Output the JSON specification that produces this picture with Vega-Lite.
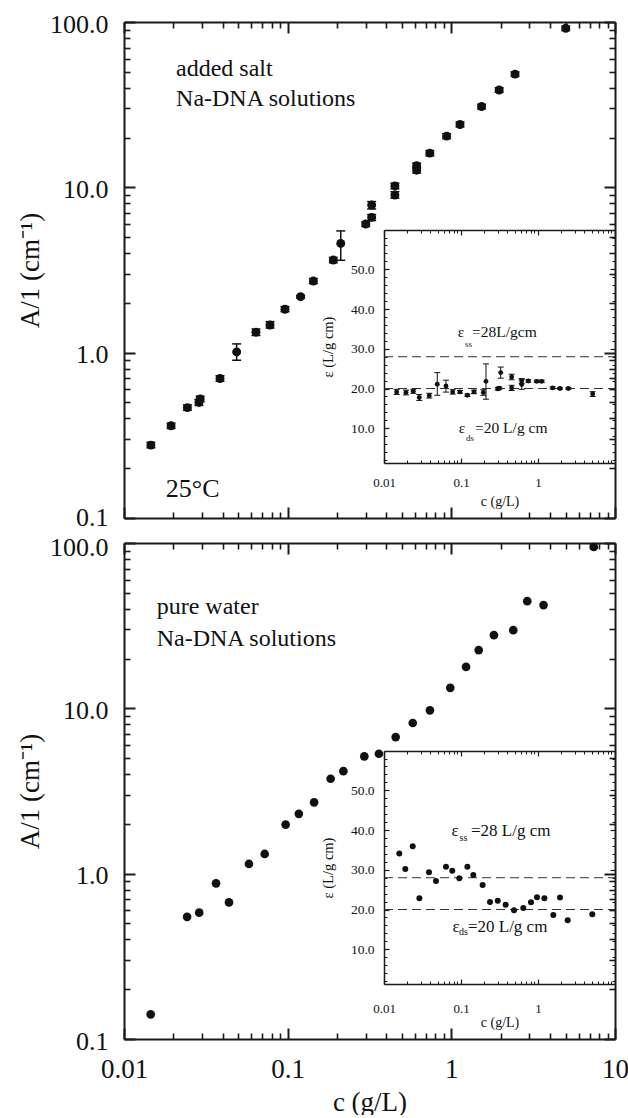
{
  "$schema": "https://vega.github.io/schema/vega-lite/v6.json",
  "background": "white",
  "autosize": {"type": "pad"},
  "padding": {"left": 16, "top": 11, "right": 0, "bottom": 0},
  "config": {
    "view": {"stroke": null},
    "font": "Liberation Serif",
    "axis": {
      "grid": false, "zindex": 1,
      "domainColor": "#1a1a1a", "tickColor": "#1a1a1a",
      "labelColor": "#111111", "titleColor": "#111111",
      "labelFont": "Liberation Serif", "titleFont": "Liberation Serif",
      "titleFontWeight": "normal", "labelOverlap": false, "labelFlush": false
    },
    "text": {"font": "Liberation Serif", "color": "#111111"}
  },
  "datasets": {
    "saltA": [
      {"c": 0.0146, "A": 0.276, "lo": 0.266, "hi": 0.287},
      {"c": 0.0194, "A": 0.361, "lo": 0.348, "hi": 0.375},
      {"c": 0.0244, "A": 0.465, "lo": 0.448, "hi": 0.483},
      {"c": 0.0287, "A": 0.500, "lo": 0.480, "hi": 0.520},
      {"c": 0.0292, "A": 0.525, "lo": 0.505, "hi": 0.545},
      {"c": 0.0386, "A": 0.698, "lo": 0.672, "hi": 0.725},
      {"c": 0.0488, "A": 1.01, "lo": 0.90, "hi": 1.13},
      {"c": 0.064, "A": 1.33, "lo": 1.27, "hi": 1.39},
      {"c": 0.078, "A": 1.47, "lo": 1.41, "hi": 1.54},
      {"c": 0.0963, "A": 1.83, "lo": 1.77, "hi": 1.90},
      {"c": 0.120, "A": 2.18, "lo": 2.14, "hi": 2.22},
      {"c": 0.1436, "A": 2.71, "lo": 2.62, "hi": 2.81},
      {"c": 0.190, "A": 3.63, "lo": 3.50, "hi": 3.77},
      {"c": 0.211, "A": 4.58, "lo": 3.62, "hi": 5.45},
      {"c": 0.300, "A": 6.00, "lo": 5.80, "hi": 6.20},
      {"c": 0.326, "A": 6.58, "lo": 6.30, "hi": 6.85},
      {"c": 0.326, "A": 7.81, "lo": 7.40, "hi": 8.20},
      {"c": 0.452, "A": 8.98, "lo": 8.60, "hi": 9.40},
      {"c": 0.452, "A": 10.2, "lo": 9.80, "hi": 10.6},
      {"c": 0.614, "A": 12.7, "lo": 12.2, "hi": 13.2},
      {"c": 0.614, "A": 13.5, "lo": 13.0, "hi": 14.0},
      {"c": 0.739, "A": 16.1, "lo": 15.5, "hi": 16.7},
      {"c": 0.936, "A": 20.4, "lo": 19.7, "hi": 21.1},
      {"c": 1.13, "A": 24.0, "lo": 23.2, "hi": 24.8},
      {"c": 1.53, "A": 30.8, "lo": 29.8, "hi": 31.8},
      {"c": 1.96, "A": 38.8, "lo": 37.6, "hi": 40.0},
      {"c": 2.45, "A": 48.4, "lo": 46.9, "hi": 49.9},
      {"c": 5.00, "A": 91.6, "lo": 88.8, "hi": 94.4}
    ],
    "saltEps": [
      {"c": 0.0146, "eps": 19.15, "lo": 18.5, "hi": 19.8},
      {"c": 0.0193, "eps": 19.0, "lo": 18.4, "hi": 19.6},
      {"c": 0.0240, "eps": 19.3, "lo": 18.8, "hi": 19.8},
      {"c": 0.0287, "eps": 17.75, "lo": 17.0, "hi": 18.5},
      {"c": 0.0387, "eps": 18.2, "lo": 17.6, "hi": 18.8},
      {"c": 0.0492, "eps": 21.1, "lo": 18.3, "hi": 24.0},
      {"c": 0.0638, "eps": 20.65, "lo": 19.1, "hi": 22.1},
      {"c": 0.078, "eps": 19.15, "lo": 18.6, "hi": 19.7},
      {"c": 0.097, "eps": 19.15, "lo": 18.8, "hi": 19.5},
      {"c": 0.121, "eps": 18.3, "lo": 18.0, "hi": 18.6},
      {"c": 0.1476, "eps": 19.15, "lo": 18.7, "hi": 19.6},
      {"c": 0.195, "eps": 19.0, "lo": 18.3, "hi": 19.7},
      {"c": 0.211, "eps": 21.8, "lo": 17.3, "hi": 26.2},
      {"c": 0.300, "eps": 19.9, "lo": 19.6, "hi": 20.2},
      {"c": 0.314, "eps": 20.1, "lo": 19.8, "hi": 20.4},
      {"c": 0.328, "eps": 24.0, "lo": 22.6, "hi": 25.4},
      {"c": 0.455, "eps": 22.9, "lo": 22.2, "hi": 23.6},
      {"c": 0.455, "eps": 20.15, "lo": 19.5, "hi": 20.8},
      {"c": 0.614, "eps": 21.9, "lo": 21.3, "hi": 22.5},
      {"c": 0.614, "eps": 21.0, "lo": 19.8, "hi": 22.2},
      {"c": 0.748, "eps": 21.9, "lo": 21.6, "hi": 22.2},
      {"c": 0.962, "eps": 21.8, "lo": 21.5, "hi": 22.1},
      {"c": 1.117, "eps": 21.8, "lo": 21.5, "hi": 22.1},
      {"c": 1.55, "eps": 20.15, "lo": 19.9, "hi": 20.4},
      {"c": 1.93, "eps": 20.0, "lo": 19.8, "hi": 20.2},
      {"c": 2.48, "eps": 20.0, "lo": 19.8, "hi": 20.2},
      {"c": 5.13, "eps": 18.6, "lo": 18.0, "hi": 19.2}
    ],
    "waterA": [
      {"c": 0.01456, "A": 0.141},
      {"c": 0.0243, "A": 0.548},
      {"c": 0.0288, "A": 0.581},
      {"c": 0.0365, "A": 0.874},
      {"c": 0.0438, "A": 0.670},
      {"c": 0.058, "A": 1.145},
      {"c": 0.0724, "A": 1.316},
      {"c": 0.0972, "A": 1.98},
      {"c": 0.117, "A": 2.30},
      {"c": 0.145, "A": 2.70},
      {"c": 0.183, "A": 3.75},
      {"c": 0.219, "A": 4.17},
      {"c": 0.294, "A": 5.12},
      {"c": 0.361, "A": 5.31},
      {"c": 0.457, "A": 6.70},
      {"c": 0.581, "A": 8.15},
      {"c": 0.740, "A": 9.72},
      {"c": 0.985, "A": 13.3},
      {"c": 1.23, "A": 17.8},
      {"c": 1.47, "A": 22.5},
      {"c": 1.82, "A": 27.7},
      {"c": 2.39, "A": 29.7},
      {"c": 2.91, "A": 44.5},
      {"c": 3.66, "A": 42.1},
      {"c": 7.43, "A": 94.6}
    ],
    "waterEps": [
      {"c": 0.0158, "eps": 34.1},
      {"c": 0.0189, "eps": 30.2},
      {"c": 0.0236, "eps": 35.9},
      {"c": 0.0288, "eps": 22.85},
      {"c": 0.0384, "eps": 29.4},
      {"c": 0.0473, "eps": 27.2},
      {"c": 0.0638, "eps": 30.75},
      {"c": 0.077, "eps": 29.75},
      {"c": 0.095, "eps": 27.9},
      {"c": 0.121, "eps": 30.75},
      {"c": 0.1445, "eps": 28.7},
      {"c": 0.191, "eps": 26.2},
      {"c": 0.238, "eps": 21.9},
      {"c": 0.300, "eps": 22.2},
      {"c": 0.380, "eps": 21.2},
      {"c": 0.488, "eps": 19.8},
      {"c": 0.644, "eps": 20.4},
      {"c": 0.811, "eps": 21.8},
      {"c": 0.970, "eps": 23.1},
      {"c": 1.21, "eps": 22.85},
      {"c": 1.58, "eps": 18.6},
      {"c": 1.93, "eps": 23.0},
      {"c": 2.43, "eps": 17.3},
      {"c": 5.07, "eps": 18.8}
    ],
    "levels": [
      {"strand": "single", "eps": 28},
      {"strand": "double", "eps": 20}
    ]
  },
  "bounds": "flush",
  "spacing": 25,
  "vconcat": [
    {
      "width": 491, "height": 496,
      "data": {"name": "saltA"},
      "resolve": {"scale": {"x": "independent", "y": "independent"}, "axis": {"x": "independent", "y": "independent"}},
      "layer": [
        {
          "mark": {"type": "point", "filled": true, "size": 80, "opacity": 1, "color": "#111111"},
          "encoding": {
            "x": {"field": "c", "type": "quantitative", "scale": {"type": "log", "domain": [0.01, 10]},
              "axis": {"orient": "bottom", "values": [0.01, 0.1, 1, 10], "tickSize": -11, "tickWidth": 2, "domainWidth": 2, "labels": false, "title": null}},
            "y": {"field": "A", "type": "quantitative", "scale": {"type": "log", "domain": [0.1, 100]},
              "axis": {"orient": "left", "values": [0.1, 1, 10, 100], "tickSize": -11, "tickWidth": 2, "domainWidth": 2, "format": ".1f", "labelFontSize": 26, "labelOffset": {"condition": {"test": "datum.value < 0.5", "value": -1}, "value": 2}, "labelPadding": 27, "title": "A/1 (cm⁻¹)", "titleFontSize": 27, "titlePadding": 5}}
          }
        },
        {
          "mark": {"type": "point", "opacity": 0},
          "encoding": {
            "x": {"field": "c", "type": "quantitative", "scale": {"type": "log", "domain": [0.01, 10]},
              "axis": {"orient": "bottom", "values": [0.02,0.03,0.04,0.05,0.06,0.07,0.08,0.09,0.2,0.3,0.4,0.5,0.6,0.7,0.8,0.9,2,3,4,5,6,7,8,9], "tickSize": -6, "tickWidth": 1.6, "domain": false, "labels": false, "title": null}},
            "y": {"field": "A", "type": "quantitative", "scale": {"type": "log", "domain": [0.1, 100]},
              "axis": {"orient": "left", "values": [0.2,0.3,0.4,0.5,0.6,0.7,0.8,0.9,2,3,4,5,6,7,8,9,20,30,40,50,60,70,80,90], "tickSize": -6, "tickWidth": 1.6, "domain": false, "labels": false, "title": null}}
          }
        },
        {
          "mark": {"type": "point", "opacity": 0},
          "encoding": {
            "x": {"field": "c", "type": "quantitative", "scale": {"type": "log", "domain": [0.01, 10]},
              "axis": {"orient": "top", "values": [0.01, 0.1, 1, 10], "tickSize": -11, "tickWidth": 2, "domainWidth": 2, "labels": false, "title": null}},
            "y": {"field": "A", "type": "quantitative", "scale": {"type": "log", "domain": [0.1, 100]},
              "axis": {"orient": "right", "values": [0.1, 1, 10, 100], "tickSize": -11, "tickWidth": 2, "domainWidth": 2, "labels": false, "title": null}}
          }
        },
        {
          "mark": {"type": "point", "opacity": 0},
          "encoding": {
            "x": {"field": "c", "type": "quantitative", "scale": {"type": "log", "domain": [0.01, 10]},
              "axis": {"orient": "top", "values": [0.02,0.03,0.04,0.05,0.06,0.07,0.08,0.09,0.2,0.3,0.4,0.5,0.6,0.7,0.8,0.9,2,3,4,5,6,7,8,9], "tickSize": -6, "tickWidth": 1.6, "domain": false, "labels": false, "title": null}},
            "y": {"field": "A", "type": "quantitative", "scale": {"type": "log", "domain": [0.1, 100]},
              "axis": {"orient": "right", "values": [0.2,0.3,0.4,0.5,0.6,0.7,0.8,0.9,2,3,4,5,6,7,8,9,20,30,40,50,60,70,80,90], "tickSize": -6, "tickWidth": 1.6, "domain": false, "labels": false, "title": null}}
          }
        },
        {
          "mark": {"type": "rule", "color": "#111111", "strokeWidth": 1.5},
          "encoding": {
            "x": {"field": "c", "type": "quantitative", "scale": {"type": "log", "domain": [0.01, 10]}, "axis": null},
            "y": {"field": "lo", "type": "quantitative", "scale": {"type": "log", "domain": [0.1, 100]}, "axis": null},
            "y2": {"field": "hi"}
          }
        },
        {
          "transform": [{"fold": ["lo", "hi"], "as": ["end", "bound"]}],
          "mark": {"type": "tick", "orient": "horizontal", "size": 9, "thickness": 1.5, "color": "#111111", "opacity": 1},
          "encoding": {
            "x": {"field": "c", "type": "quantitative", "scale": {"type": "log", "domain": [0.01, 10]}, "axis": null},
            "y": {"field": "bound", "type": "quantitative", "scale": {"type": "log", "domain": [0.1, 100]}, "axis": null}
          }
        },
        {
          "data": {"values": [{"note": "sample"}]},
          "mark": {"type": "text", "font": "Liberation Serif", "align": "left", "baseline": "alphabetic", "fontSize": 24, "lineHeight": 30, "text": ["added salt", "Na-DNA solutions"]},
          "encoding": {
            "x": {"datum": 0.0208, "type": "quantitative", "scale": {"type": "log", "domain": [0.01, 10]}, "axis": null},
            "y": {"datum": 47.1, "type": "quantitative", "scale": {"type": "log", "domain": [0.1, 100]}, "axis": null}
          }
        },
        {
          "data": {"values": [{"note": "25°C"}]},
          "mark": {"type": "text", "font": "Liberation Serif", "align": "left", "baseline": "alphabetic", "fontSize": 26},
          "encoding": {
            "x": {"datum": 0.018, "type": "quantitative", "scale": {"type": "log", "domain": [0.01, 10]}, "axis": null},
            "y": {"datum": 0.134, "type": "quantitative", "scale": {"type": "log", "domain": [0.1, 100]}, "axis": null},
            "text": {"field": "note"}
          }
        },
        {
          "data": {"name": "saltEps"},
          "mark": {"type": "point", "opacity": 0},
          "encoding": {
            "x": {"field": "c", "type": "quantitative", "scale": {"type": "log", "domain": [0.01, 10], "range": [260, 491]},
              "axis": {"orient": "bottom", "offset": -55, "values": [0.01, 0.1, 1], "tickSize": -5, "tickWidth": 1.2, "domainWidth": 1.5, "format": "~g", "labelFontSize": 13, "labelPadding": 18, "title": "c (g/L)", "titleFontSize": 14, "titlePadding": 5}},
            "y": {"field": "eps", "type": "quantitative", "scale": {"type": "linear", "zero": false, "domain": [1.25, 59.9], "range": [441, 208]},
              "axis": {"orient": "left", "offset": -260, "values": [10, 20, 30, 40, 50], "tickSize": -5, "tickWidth": 1.2, "domainWidth": 1.5, "format": ".1f", "labelFontSize": 13.5, "labelPadding": 15, "title": "ε (L/g cm)", "titleFontSize": 14.5, "titlePadding": 15}}
          }
        },
        {
          "data": {"name": "saltEps"},
          "mark": {"type": "point", "opacity": 0},
          "encoding": {
            "x": {"field": "c", "type": "quantitative", "scale": {"type": "log", "domain": [0.01, 10], "range": [260, 491]},
              "axis": {"orient": "bottom", "offset": -55, "values": [0.02,0.03,0.04,0.05,0.06,0.07,0.08,0.09,0.2,0.3,0.4,0.5,0.6,0.7,0.8,0.9,2,3,4,5,6,7,8,9], "tickSize": -3, "tickWidth": 1, "domain": false, "labels": false, "title": null}},
            "y": {"field": "eps", "type": "quantitative", "scale": {"type": "linear", "zero": false, "domain": [1.25, 59.9], "range": [441, 208]},
              "axis": {"orient": "left", "offset": -260, "values": [2,4,6,8,12,14,16,18,22,24,26,28,32,34,36,38,42,44,46,48,52,54,56,58], "tickSize": -3, "tickWidth": 1, "domain": false, "labels": false, "title": null}}
          }
        },
        {
          "data": {"name": "saltEps"},
          "mark": {"type": "point", "opacity": 0},
          "encoding": {
            "x": {"field": "c", "type": "quantitative", "scale": {"type": "log", "domain": [0.01, 10], "range": [260, 491]},
              "axis": {"orient": "top", "offset": -208, "values": [0.01, 0.1, 1, 10], "tickSize": -5, "tickWidth": 1.2, "domainWidth": 1.5, "labels": false, "title": null}},
            "y": {"field": "eps", "type": "quantitative", "scale": {"type": "linear", "zero": false, "domain": [1.25, 59.9], "range": [441, 208]},
              "axis": {"orient": "right", "offset": 0, "values": [10, 20, 30, 40, 50], "tickSize": -5, "tickWidth": 1.2, "domain": false, "labels": false, "title": null}}
          }
        },
        {
          "data": {"name": "saltEps"},
          "mark": {"type": "point", "opacity": 0},
          "encoding": {
            "x": {"field": "c", "type": "quantitative", "scale": {"type": "log", "domain": [0.01, 10], "range": [260, 491]},
              "axis": {"orient": "top", "offset": -208, "values": [0.02,0.03,0.04,0.05,0.06,0.07,0.08,0.09,0.2,0.3,0.4,0.5,0.6,0.7,0.8,0.9,2,3,4,5,6,7,8,9], "tickSize": -3, "tickWidth": 1, "domain": false, "labels": false, "title": null}},
            "y": {"field": "eps", "type": "quantitative", "scale": {"type": "linear", "zero": false, "domain": [1.25, 59.9], "range": [441, 208]},
              "axis": {"orient": "right", "offset": 0, "values": [2,4,6,8,12,14,16,18,22,24,26,28,32,34,36,38,42,44,46,48,52,54,56,58], "tickSize": -3, "tickWidth": 1, "domain": false, "labels": false, "title": null}}
          }
        },
        {
          "data": {"name": "levels"},
          "mark": {"type": "rule", "color": "#333333", "strokeWidth": 1, "strokeDash": [9, 5]},
          "encoding": {
            "x": {"datum": 0.01, "type": "quantitative", "scale": {"type": "log", "domain": [0.01, 10], "range": [260, 491]}, "axis": null},
            "x2": {"datum": 10},
            "y": {"field": "eps", "type": "quantitative", "scale": {"type": "linear", "zero": false, "domain": [1.25, 59.9], "range": [441, 208]}, "axis": null}
          }
        },
        {
          "data": {"name": "saltEps"},
          "mark": {"type": "rule", "color": "#111111", "strokeWidth": 1},
          "encoding": {
            "x": {"field": "c", "type": "quantitative", "scale": {"type": "log", "domain": [0.01, 10], "range": [260, 491]}, "axis": null},
            "y": {"field": "lo", "type": "quantitative", "scale": {"type": "linear", "zero": false, "domain": [1.25, 59.9], "range": [441, 208]}, "axis": null},
            "y2": {"field": "hi"}
          }
        },
        {
          "data": {"name": "saltEps"},
          "transform": [{"fold": ["lo", "hi"], "as": ["end", "bound"]}],
          "mark": {"type": "tick", "orient": "horizontal", "size": 6, "thickness": 1, "color": "#111111", "opacity": 1},
          "encoding": {
            "x": {"field": "c", "type": "quantitative", "scale": {"type": "log", "domain": [0.01, 10], "range": [260, 491]}, "axis": null},
            "y": {"field": "bound", "type": "quantitative", "scale": {"type": "linear", "zero": false, "domain": [1.25, 59.9], "range": [441, 208]}, "axis": null}
          }
        },
        {
          "data": {"name": "saltEps"},
          "mark": {"type": "point", "filled": true, "size": 24, "opacity": 1, "color": "#111111"},
          "encoding": {
            "x": {"field": "c", "type": "quantitative", "scale": {"type": "log", "domain": [0.01, 10], "range": [260, 491]}, "axis": null},
            "y": {"field": "eps", "type": "quantitative", "scale": {"type": "linear", "zero": false, "domain": [1.25, 59.9], "range": [441, 208]}, "axis": null}
          }
        },
        {
          "data": {"values": [{"note": "ε"}]},
          "mark": {"type": "text", "font": "Liberation Serif", "align": "center", "baseline": "middle", "fontSize": 15.5},
          "encoding": {
            "x": {"datum": 0.1, "type": "quantitative", "scale": {"type": "log", "domain": [0.01, 10], "range": [260, 491]}, "axis": null},
            "y": {"datum": 34.15, "type": "quantitative", "scale": {"type": "linear", "zero": false, "domain": [1.25, 59.9], "range": [441, 208]}, "axis": null},
            "text": {"field": "note"}
          }
        },
        {
          "data": {"values": [{"note": "ss"}]},
          "mark": {"type": "text", "font": "Liberation Serif", "align": "left", "baseline": "middle", "fontSize": 9},
          "encoding": {
            "x": {"datum": 0.1127, "type": "quantitative", "scale": {"type": "log", "domain": [0.01, 10], "range": [260, 491]}, "axis": null},
            "y": {"datum": 31.3, "type": "quantitative", "scale": {"type": "linear", "zero": false, "domain": [1.25, 59.9], "range": [441, 208]}, "axis": null},
            "text": {"field": "note"}
          }
        },
        {
          "data": {"values": [{"note": "=28L/gcm"}]},
          "mark": {"type": "text", "font": "Liberation Serif", "align": "left", "baseline": "middle", "fontSize": 15.5},
          "encoding": {
            "x": {"datum": 0.139, "type": "quantitative", "scale": {"type": "log", "domain": [0.01, 10], "range": [260, 491]}, "axis": null},
            "y": {"datum": 34.15, "type": "quantitative", "scale": {"type": "linear", "zero": false, "domain": [1.25, 59.9], "range": [441, 208]}, "axis": null},
            "text": {"field": "note"}
          }
        },
        {
          "data": {"values": [{"note": "ε"}]},
          "mark": {"type": "text", "font": "Liberation Serif", "align": "center", "baseline": "middle", "fontSize": 15.5},
          "encoding": {
            "x": {"datum": 0.103, "type": "quantitative", "scale": {"type": "log", "domain": [0.01, 10], "range": [260, 491]}, "axis": null},
            "y": {"datum": 10.0, "type": "quantitative", "scale": {"type": "linear", "zero": false, "domain": [1.25, 59.9], "range": [441, 208]}, "axis": null},
            "text": {"field": "note"}
          }
        },
        {
          "data": {"values": [{"note": "ds"}]},
          "mark": {"type": "text", "font": "Liberation Serif", "align": "left", "baseline": "middle", "fontSize": 9},
          "encoding": {
            "x": {"datum": 0.116, "type": "quantitative", "scale": {"type": "log", "domain": [0.01, 10], "range": [260, 491]}, "axis": null},
            "y": {"datum": 7.65, "type": "quantitative", "scale": {"type": "linear", "zero": false, "domain": [1.25, 59.9], "range": [441, 208]}, "axis": null},
            "text": {"field": "note"}
          }
        },
        {
          "data": {"values": [{"note": "=20 L/g cm"}]},
          "mark": {"type": "text", "font": "Liberation Serif", "align": "left", "baseline": "middle", "fontSize": 15.5},
          "encoding": {
            "x": {"datum": 0.152, "type": "quantitative", "scale": {"type": "log", "domain": [0.01, 10], "range": [260, 491]}, "axis": null},
            "y": {"datum": 10.0, "type": "quantitative", "scale": {"type": "linear", "zero": false, "domain": [1.25, 59.9], "range": [441, 208]}, "axis": null},
            "text": {"field": "note"}
          }
        }
      ]
    },
    {
      "width": 491, "height": 496,
      "data": {"name": "waterA"},
      "resolve": {"scale": {"x": "independent", "y": "independent"}, "axis": {"x": "independent", "y": "independent"}},
      "layer": [
        {
          "mark": {"type": "point", "filled": true, "size": 75, "opacity": 1, "color": "#111111"},
          "encoding": {
            "x": {"field": "c", "type": "quantitative", "scale": {"type": "log", "domain": [0.01, 10]},
              "axis": {"orient": "bottom", "values": [0.01, 0.1, 1, 10], "tickSize": -11, "tickWidth": 2, "domainWidth": 2, "format": "~g", "labelFontSize": 27, "labelPadding": 28, "title": "c (g/L)", "titleFontSize": 27, "titlePadding": 7}},
            "y": {"field": "A", "type": "quantitative", "scale": {"type": "log", "domain": [0.1, 100]},
              "axis": {"orient": "left", "values": [0.1, 1, 10, 100], "tickSize": -11, "tickWidth": 2, "domainWidth": 2, "format": ".1f", "labelFontSize": 26, "labelOffset": {"condition": {"test": "datum.value > 50", "value": 4}, "value": 2}, "labelPadding": 27, "title": "A/1 (cm⁻¹)", "titleFontSize": 27, "titlePadding": 5}}
          }
        },
        {
          "mark": {"type": "point", "opacity": 0},
          "encoding": {
            "x": {"field": "c", "type": "quantitative", "scale": {"type": "log", "domain": [0.01, 10]},
              "axis": {"orient": "bottom", "values": [0.02,0.03,0.04,0.05,0.06,0.07,0.08,0.09,0.2,0.3,0.4,0.5,0.6,0.7,0.8,0.9,2,3,4,5,6,7,8,9], "tickSize": -6, "tickWidth": 1.6, "domain": false, "labels": false, "title": null}},
            "y": {"field": "A", "type": "quantitative", "scale": {"type": "log", "domain": [0.1, 100]},
              "axis": {"orient": "left", "values": [0.2,0.3,0.4,0.5,0.6,0.7,0.8,0.9,2,3,4,5,6,7,8,9,20,30,40,50,60,70,80,90], "tickSize": -6, "tickWidth": 1.6, "domain": false, "labels": false, "title": null}}
          }
        },
        {
          "mark": {"type": "point", "opacity": 0},
          "encoding": {
            "x": {"field": "c", "type": "quantitative", "scale": {"type": "log", "domain": [0.01, 10]},
              "axis": {"orient": "top", "values": [0.01, 0.1, 1, 10], "tickSize": -11, "tickWidth": 2, "domainWidth": 2, "labels": false, "title": null}},
            "y": {"field": "A", "type": "quantitative", "scale": {"type": "log", "domain": [0.1, 100]},
              "axis": {"orient": "right", "values": [0.1, 1, 10, 100], "tickSize": -11, "tickWidth": 2, "domainWidth": 2, "labels": false, "title": null}}
          }
        },
        {
          "mark": {"type": "point", "opacity": 0},
          "encoding": {
            "x": {"field": "c", "type": "quantitative", "scale": {"type": "log", "domain": [0.01, 10]},
              "axis": {"orient": "top", "values": [0.02,0.03,0.04,0.05,0.06,0.07,0.08,0.09,0.2,0.3,0.4,0.5,0.6,0.7,0.8,0.9,2,3,4,5,6,7,8,9], "tickSize": -6, "tickWidth": 1.6, "domain": false, "labels": false, "title": null}},
            "y": {"field": "A", "type": "quantitative", "scale": {"type": "log", "domain": [0.1, 100]},
              "axis": {"orient": "right", "values": [0.2,0.3,0.4,0.5,0.6,0.7,0.8,0.9,2,3,4,5,6,7,8,9,20,30,40,50,60,70,80,90], "tickSize": -6, "tickWidth": 1.6, "domain": false, "labels": false, "title": null}}
          }
        },
        {
          "data": {"values": [{"note": "sample"}]},
          "mark": {"type": "text", "font": "Liberation Serif", "align": "left", "baseline": "alphabetic", "fontSize": 24, "lineHeight": 31.5, "text": ["pure water", "Na-DNA solutions"]},
          "encoding": {
            "x": {"datum": 0.01584, "type": "quantitative", "scale": {"type": "log", "domain": [0.01, 10]}, "axis": null},
            "y": {"datum": 36.97, "type": "quantitative", "scale": {"type": "log", "domain": [0.1, 100]}, "axis": null}
          }
        },
        {
          "data": {"name": "waterEps"},
          "mark": {"type": "point", "opacity": 0},
          "encoding": {
            "x": {"field": "c", "type": "quantitative", "scale": {"type": "log", "domain": [0.01, 10], "range": [260, 491]},
              "axis": {"orient": "bottom", "offset": -55, "values": [0.01, 0.1, 1], "tickSize": -5, "tickWidth": 1.2, "domainWidth": 1.5, "format": "~g", "labelFontSize": 13, "labelPadding": 23, "title": "c (g/L)", "titleFontSize": 14, "titlePadding": 0}},
            "y": {"field": "eps", "type": "quantitative", "scale": {"type": "linear", "zero": false, "domain": [1.25, 59.9], "range": [441, 208]},
              "axis": {"orient": "left", "offset": -260, "values": [10, 20, 30, 40, 50], "tickSize": -5, "tickWidth": 1.2, "domainWidth": 1.5, "format": ".1f", "labelFontSize": 13.5, "labelPadding": 15, "title": "ε (L/g cm)", "titleFontSize": 14.5, "titlePadding": 15}}
          }
        },
        {
          "data": {"name": "waterEps"},
          "mark": {"type": "point", "opacity": 0},
          "encoding": {
            "x": {"field": "c", "type": "quantitative", "scale": {"type": "log", "domain": [0.01, 10], "range": [260, 491]},
              "axis": {"orient": "bottom", "offset": -55, "values": [0.02,0.03,0.04,0.05,0.06,0.07,0.08,0.09,0.2,0.3,0.4,0.5,0.6,0.7,0.8,0.9,2,3,4,5,6,7,8,9], "tickSize": -3, "tickWidth": 1, "domain": false, "labels": false, "title": null}},
            "y": {"field": "eps", "type": "quantitative", "scale": {"type": "linear", "zero": false, "domain": [1.25, 59.9], "range": [441, 208]},
              "axis": {"orient": "left", "offset": -260, "values": [2,4,6,8,12,14,16,18,22,24,26,28,32,34,36,38,42,44,46,48,52,54,56,58], "tickSize": -3, "tickWidth": 1, "domain": false, "labels": false, "title": null}}
          }
        },
        {
          "data": {"name": "waterEps"},
          "mark": {"type": "point", "opacity": 0},
          "encoding": {
            "x": {"field": "c", "type": "quantitative", "scale": {"type": "log", "domain": [0.01, 10], "range": [260, 491]},
              "axis": {"orient": "top", "offset": -208, "values": [0.01, 0.1, 1, 10], "tickSize": -5, "tickWidth": 1.2, "domainWidth": 1.5, "labels": false, "title": null}},
            "y": {"field": "eps", "type": "quantitative", "scale": {"type": "linear", "zero": false, "domain": [1.25, 59.9], "range": [441, 208]},
              "axis": {"orient": "right", "offset": 0, "values": [10, 20, 30, 40, 50], "tickSize": -5, "tickWidth": 1.2, "domain": false, "labels": false, "title": null}}
          }
        },
        {
          "data": {"name": "waterEps"},
          "mark": {"type": "point", "opacity": 0},
          "encoding": {
            "x": {"field": "c", "type": "quantitative", "scale": {"type": "log", "domain": [0.01, 10], "range": [260, 491]},
              "axis": {"orient": "top", "offset": -208, "values": [0.02,0.03,0.04,0.05,0.06,0.07,0.08,0.09,0.2,0.3,0.4,0.5,0.6,0.7,0.8,0.9,2,3,4,5,6,7,8,9], "tickSize": -3, "tickWidth": 1, "domain": false, "labels": false, "title": null}},
            "y": {"field": "eps", "type": "quantitative", "scale": {"type": "linear", "zero": false, "domain": [1.25, 59.9], "range": [441, 208]},
              "axis": {"orient": "right", "offset": 0, "values": [2,4,6,8,12,14,16,18,22,24,26,28,32,34,36,38,42,44,46,48,52,54,56,58], "tickSize": -3, "tickWidth": 1, "domain": false, "labels": false, "title": null}}
          }
        },
        {
          "data": {"name": "levels"},
          "mark": {"type": "rule", "color": "#333333", "strokeWidth": 1, "strokeDash": [9, 5]},
          "encoding": {
            "x": {"datum": 0.01, "type": "quantitative", "scale": {"type": "log", "domain": [0.01, 10], "range": [260, 491]}, "axis": null},
            "x2": {"datum": 10},
            "y": {"field": "eps", "type": "quantitative", "scale": {"type": "linear", "zero": false, "domain": [1.25, 59.9], "range": [441, 208]}, "axis": null}
          }
        },
        {
          "data": {"name": "waterEps"},
          "mark": {"type": "point", "filled": true, "size": 36, "opacity": 1, "color": "#111111"},
          "encoding": {
            "x": {"field": "c", "type": "quantitative", "scale": {"type": "log", "domain": [0.01, 10], "range": [260, 491]}, "axis": null},
            "y": {"field": "eps", "type": "quantitative", "scale": {"type": "linear", "zero": false, "domain": [1.25, 59.9], "range": [441, 208]}, "axis": null}
          }
        },
        {
          "data": {"values": [{"note": "ε"}]},
          "mark": {"type": "text", "font": "Liberation Serif", "align": "center", "baseline": "middle", "fontSize": 17},
          "encoding": {
            "x": {"datum": 0.0835, "type": "quantitative", "scale": {"type": "log", "domain": [0.01, 10], "range": [260, 491]}, "axis": null},
            "y": {"datum": 39.85, "type": "quantitative", "scale": {"type": "linear", "zero": false, "domain": [1.25, 59.9], "range": [441, 208]}, "axis": null},
            "text": {"field": "note"}
          }
        },
        {
          "data": {"values": [{"note": "ss"}]},
          "mark": {"type": "text", "font": "Liberation Serif", "align": "left", "baseline": "middle", "fontSize": 10},
          "encoding": {
            "x": {"datum": 0.0956, "type": "quantitative", "scale": {"type": "log", "domain": [0.01, 10], "range": [260, 491]}, "axis": null},
            "y": {"datum": 38.0, "type": "quantitative", "scale": {"type": "linear", "zero": false, "domain": [1.25, 59.9], "range": [441, 208]}, "axis": null},
            "text": {"field": "note"}
          }
        },
        {
          "data": {"values": [{"note": "=28 L/g cm"}]},
          "mark": {"type": "text", "font": "Liberation Serif", "align": "left", "baseline": "middle", "fontSize": 17},
          "encoding": {
            "x": {"datum": 0.135, "type": "quantitative", "scale": {"type": "log", "domain": [0.01, 10], "range": [260, 491]}, "axis": null},
            "y": {"datum": 39.85, "type": "quantitative", "scale": {"type": "linear", "zero": false, "domain": [1.25, 59.9], "range": [441, 208]}, "axis": null},
            "text": {"field": "note"}
          }
        },
        {
          "data": {"values": [{"note": "ε"}]},
          "mark": {"type": "text", "font": "Liberation Serif", "align": "center", "baseline": "middle", "fontSize": 17},
          "encoding": {
            "x": {"datum": 0.0861, "type": "quantitative", "scale": {"type": "log", "domain": [0.01, 10], "range": [260, 491]}, "axis": null},
            "y": {"datum": 15.7, "type": "quantitative", "scale": {"type": "linear", "zero": false, "domain": [1.25, 59.9], "range": [441, 208]}, "axis": null},
            "text": {"field": "note"}
          }
        },
        {
          "data": {"values": [{"note": "ds"}]},
          "mark": {"type": "text", "font": "Liberation Serif", "align": "left", "baseline": "middle", "fontSize": 10},
          "encoding": {
            "x": {"datum": 0.0942, "type": "quantitative", "scale": {"type": "log", "domain": [0.01, 10], "range": [260, 491]}, "axis": null},
            "y": {"datum": 14.4, "type": "quantitative", "scale": {"type": "linear", "zero": false, "domain": [1.25, 59.9], "range": [441, 208]}, "axis": null},
            "text": {"field": "note"}
          }
        },
        {
          "data": {"values": [{"note": "=20 L/g cm"}]},
          "mark": {"type": "text", "font": "Liberation Serif", "align": "left", "baseline": "middle", "fontSize": 17},
          "encoding": {
            "x": {"datum": 0.123, "type": "quantitative", "scale": {"type": "log", "domain": [0.01, 10], "range": [260, 491]}, "axis": null},
            "y": {"datum": 15.7, "type": "quantitative", "scale": {"type": "linear", "zero": false, "domain": [1.25, 59.9], "range": [441, 208]}, "axis": null},
            "text": {"field": "note"}
          }
        }
      ]
    }
  ]
}
